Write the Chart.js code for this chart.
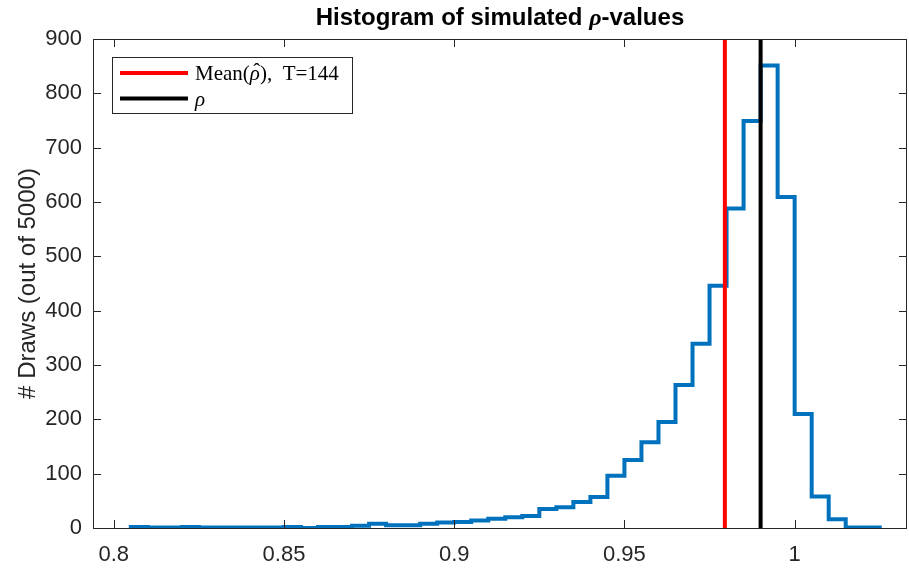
<!DOCTYPE html>
<html>
<head>
<meta charset="utf-8">
<script src="https://cdn.jsdelivr.net/npm/chart.js@4.4.1/dist/chart.umd.min.js"></script>
<style>
    html, body { margin: 0; padding: 0; background: #fff; }
    #wrap { width: 909px; height: 574px; }
</style>
</head>
<body>
<div id="wrap"><canvas id="histChart" width="909" height="574"></canvas></div>
<script>
// 直方图数据（bin 边界与计数）
const binEdges = [
    0.805, 0.810, 0.815, 0.820, 0.825, 0.830, 0.835, 0.840, 0.845, 0.850,
    0.855, 0.860, 0.865, 0.870, 0.875, 0.880, 0.885, 0.890, 0.895, 0.900,
    0.905, 0.910, 0.915, 0.920, 0.925, 0.930, 0.935, 0.940, 0.945, 0.950,
    0.955, 0.960, 0.965, 0.970, 0.975, 0.980, 0.985, 0.990, 0.995, 1.000,
    1.005, 1.010, 1.015, 1.020, 1.025
];
const binCounts = [
    2, 1, 1, 2, 1, 1, 1, 1, 1, 2,
    0, 2, 2, 4, 8, 5, 5, 8, 10, 11,
    14, 17, 20, 22, 35, 38, 48, 57, 96, 125,
    158, 195, 263, 339, 446, 588, 749, 851, 609, 210,
    58, 16, 1, 1
];

// 竖线位置
const meanRhoHat = 0.9795;
const trueRho = 0.99;

// 坐标轴刻度
const xTicks = [0.8, 0.85, 0.9, 0.95, 1];
const xTickLabels = ['0.8', '0.85', '0.9', '0.95', '1'];
const yTicks = [0, 100, 200, 300, 400, 500, 600, 700, 800, 900];
const xRange = [0.7939, 1.033];
const yRange = [0, 900];

const axisColor = '#262626';
const sansFont = '"Liberation Sans", Arial, sans-serif';
const serifFont = '"Liberation Serif", "DejaVu Serif", serif';

// 生成阶梯轮廓的点
const stairPoints = [{ x: binEdges[0], y: 0 }];
binCounts.forEach((c, i) => {
    stairPoints.push({ x: binEdges[i], y: c });
});
stairPoints.push({ x: binEdges[binEdges.length - 1], y: binCounts[binCounts.length - 1] });
stairPoints.push({ x: binEdges[binEdges.length - 1], y: 0 });

// 绘制框线、内向刻度、标题与图例
const matlabStyle = {
    id: 'matlabStyle',
    afterDatasetsDraw(chart) {
        const ctx = chart.ctx;
        const a = chart.chartArea;
        const xs = chart.scales.x;
        const ys = chart.scales.y;
        const tickLen = 8;

        ctx.save();
        ctx.strokeStyle = axisColor;
        ctx.lineWidth = 1;
        ctx.beginPath();
        xTicks.forEach(v => {
            const px = Math.round(xs.getPixelForValue(v)) + 0.5;
            ctx.moveTo(px, a.bottom); ctx.lineTo(px, a.bottom - tickLen);
            ctx.moveTo(px, a.top); ctx.lineTo(px, a.top + tickLen);
        });
        yTicks.forEach(v => {
            const py = Math.round(ys.getPixelForValue(v)) + 0.5;
            ctx.moveTo(a.left, py); ctx.lineTo(a.left + tickLen, py);
            ctx.moveTo(a.right, py); ctx.lineTo(a.right - tickLen, py);
        });
        ctx.stroke();
        ctx.strokeRect(Math.round(a.left) + 0.5, Math.round(a.top) + 0.5,
            Math.round(a.right - a.left) - 1, Math.round(a.bottom - a.top));
        ctx.restore();

        // 标题（ρ 用斜体）
        const parts = [
            { t: 'Histogram of simulated ', f: 'bold 24px ' + sansFont },
            { t: 'ρ', f: 'italic bold 24px ' + serifFont },
            { t: '-values', f: 'bold 24px ' + sansFont }
        ];
        ctx.save();
        ctx.fillStyle = '#000';
        ctx.textBaseline = 'alphabetic';
        let total = 0;
        parts.forEach(p => { ctx.font = p.f; p.w = ctx.measureText(p.t).width; total += p.w; });
        let tx = (a.left + a.right) / 2 - total / 2;
        parts.forEach(p => { ctx.font = p.f; ctx.fillText(p.t, tx, 25); tx += p.w; });
        ctx.restore();

        // 图例
        const lx = 112, ly = 57, lw = 240, lh = 56;
        const fs = 21;
        ctx.save();
        ctx.fillStyle = '#fff';
        ctx.fillRect(lx, ly, lw, lh);
        ctx.strokeStyle = axisColor;
        ctx.lineWidth = 1;
        ctx.strokeRect(lx + 0.5, ly + 0.5, lw, lh);
        const rows = [
            { ds: chart.data.datasets[0], y: 73, parts: [
                { t: 'Mean(', f: fs + 'px ' + serifFont },
                { t: 'ρ', f: 'italic ' + fs + 'px ' + serifFont, hat: true },
                { t: '),  T=144', f: fs + 'px ' + serifFont }
            ] },
            { ds: chart.data.datasets[1], y: 98.5, parts: [
                { t: 'ρ', f: 'italic ' + fs + 'px ' + serifFont }
            ] }
        ];
        rows.forEach(r => {
            ctx.strokeStyle = r.ds.borderColor;
            ctx.lineWidth = 4;
            ctx.beginPath();
            ctx.moveTo(120, r.y); ctx.lineTo(188, r.y);
            ctx.stroke();
            ctx.fillStyle = '#000';
            ctx.textBaseline = 'alphabetic';
            let x = 195;
            const base = r.y + 7;
            r.parts.forEach(p => {
                ctx.font = p.f;
                const w = ctx.measureText(p.t).width;
                ctx.fillText(p.t, x, base);
                if (p.hat) {
                    ctx.font = fs + 'px ' + serifFont;
                    ctx.textAlign = 'center';
                    ctx.fillText('\u02C6', x + w / 2 + 2, base - 2);
                    ctx.textAlign = 'left';
                }
                x += w;
            });
        });
        ctx.restore();
    }
};

const canvas = document.getElementById('histChart');
const ctx = canvas.getContext('2d');
const chart = new Chart(ctx, {
    type: 'line',
    data: {
        datasets: [
            {
                label: 'Mean(ρ̂), T=144',
                data: [{ x: meanRhoHat, y: yRange[0] }, { x: meanRhoHat, y: yRange[1] }],
                borderColor: '#ff0000',
                borderWidth: 4,
                pointRadius: 0,
                order: 1
            },
            {
                label: 'ρ',
                data: [{ x: trueRho, y: yRange[0] }, { x: trueRho, y: yRange[1] }],
                borderColor: '#000000',
                borderWidth: 4,
                pointRadius: 0,
                order: 0
            },
            {
                label: 'histogram',
                data: stairPoints,
                stepped: 'before',
                borderColor: '#0072bd',
                borderWidth: 4,
                borderJoinStyle: 'miter',
                borderCapStyle: 'butt',
                pointRadius: 0,
                fill: false,
                order: 5
            }
        ]
    },
    options: {
        responsive: false,
        devicePixelRatio: 1,
        animation: false,
        layout: { padding: { top: 39, right: 2, left: 0, bottom: 0 } },
        scales: {
            x: {
                type: 'linear',
                min: xRange[0],
                max: xRange[1],
                grid: { display: false, drawTicks: false },
                border: { display: false },
                afterBuildTicks: s => { s.ticks = xTicks.map(v => ({ value: v })); },
                afterFit: s => { s.height = 46; },
                ticks: {
                    autoSkip: false,
                    maxRotation: 0,
                    padding: 14,
                    color: axisColor,
                    font: { family: sansFont, size: 22 },
                    callback: (v, i) => xTickLabels[i]
                }
            },
            y: {
                min: yRange[0],
                max: yRange[1],
                grid: { display: false, drawTicks: false },
                border: { display: false },
                afterBuildTicks: s => { s.ticks = yTicks.map(v => ({ value: v })); },
                afterFit: s => { s.width = 93; },
                ticks: {
                    autoSkip: false,
                    padding: 11,
                    color: axisColor,
                    font: { family: sansFont, size: 22 }
                },
                title: {
                    display: true,
                    text: '# Draws (out of 5000)',
                    color: axisColor,
                    font: { family: sansFont, size: 24 },
                    padding: { top: 14, bottom: 0 }
                }
            }
        },
        plugins: {
            legend: { display: false },
            tooltip: { enabled: false },
            title: { display: false }
        }
    },
    plugins: [matlabStyle]
});
</script>
</body>
</html>
